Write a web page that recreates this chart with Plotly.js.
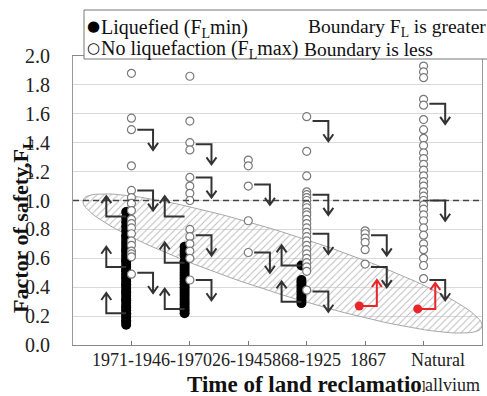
<!DOCTYPE html>
<html><head><meta charset="utf-8">
<script src="https://cdn.plot.ly/plotly-3.0.1.min.js"></script>
<style>html,body{margin:0;padding:0;background:#fff}#chart{width:487px;height:396px}</style>
</head><body><div id="chart"></div>
<script>
// ---------- data ----------
const categories = ['1971-', '1946-1970', '1926-1945', '1868-1925', '1867', 'Natural'];
const lastCategorySecondLine = 'allvium';

// Liquefied (F_L min), black filled
const liqCat1 = [0.14,0.16,0.17,0.19,0.21,0.22,0.24,0.26,0.27,0.29,0.31,0.32,0.34,0.36,0.37,0.39,0.41,0.42,0.44,0.46,0.47,0.49,0.51,0.52,0.54,0.56,0.58,0.59,0.61,0.63,0.65,0.66,0.68,0.70,0.72,0.74,0.76,0.79,0.82,0.85,0.88,0.92];
const liqCat2 = [0.22,0.24,0.26,0.28,0.30,0.32,0.34,0.36,0.38,0.40,0.42,0.44,0.46,0.48,0.50,0.52,0.54,0.56,0.58,0.62,0.65,0.68];
const liqCat4 = [0.29,0.31,0.33,0.35,0.37,0.39,0.41,0.43,0.45,0.55];
// Liquefied, red
const liqRedCat5 = [0.27];
const liqRedCat6 = [0.25];

// No liquefaction (F_L max), open circles
const noLiqCat1 = [1.88,1.57,1.49,1.24,1.07,1.02,0.98,0.93,0.87,0.84,0.81,0.77,0.72,0.69,0.65,0.63,0.61,0.49];
const noLiqCat2 = [1.86,1.55,1.40,1.35,1.16,1.10,1.05,1.00,0.80,0.75,0.70,0.65,0.60,0.45];
const noLiqCat3 = [1.28,1.24,1.10,0.86,0.64];
const noLiqCat4 = [1.58,1.34,1.17,1.06,1.04,1.02,1.00,0.97,0.95,0.92,0.90,0.87,0.84,0.81,0.78,0.75,0.72,0.69,0.66,0.63,0.60,0.57,0.54,0.51,0.38];
const noLiqCat5 = [0.79,0.77,0.74,0.71,0.66,0.56];
const noLiqCat6 = [1.93,1.89,1.85,1.70,1.66,1.56,1.49,1.43,1.38,1.33,1.29,1.25,1.21,1.17,1.13,1.10,1.06,1.03,1.00,0.97,0.94,0.90,0.86,0.81,0.76,0.70,0.66,0.60,0.55,0.46];

// Boundary arrows: [category number, F_L value where the arrow starts]
const arrowsGreater = [[1,0.22],[1,0.54],[1,0.89],[2,0.25],[2,0.57],[2,0.89],[4,0.30],[4,0.55]];
const arrowsLess = [[1,1.49],[1,1.07],[1,0.50],[2,1.39],[2,1.16],[2,0.76],[2,0.45],[3,1.11],[3,0.64],[4,1.55],[4,1.04],[4,0.77],[4,0.37],[5,0.76],[5,0.54],[6,1.67],[6,1.00],[6,0.45]];
const arrowsGreaterRed = [[5,0.27],[6,0.25]];

const yTickVals = [0,0.2,0.4,0.6,0.8,1.0,1.2,1.4,1.6,1.8,2.0];

// ---------- layout helpers (positions/styles) ----------
const W = 487, H = 396, ML = 73, MR = 5, MT = 56, MB = 51;
const PW = W - ML - MR, PH = H - MT - MB;
const XR = [0, 7], YR = [0, 2];
const px2x = px => XR[0] + (px - ML) / PW * (XR[1] - XR[0]);
const py2y = py => YR[0] + (H - MB - py) / PH * (YR[1] - YR[0]);
const px2paper = px => (px - ML) / PW;
const py2paper = py => (H - MB - py) / PH;
const dxPerPx = (XR[1]-XR[0]) / PW, dyPerPx = (YR[1]-YR[0]) / PH;

const LIQ_OFF = -0.09;
const FONT = 'Liberation Serif';

function pts(arrs, off) {
  const x = [], y = [];
  arrs.forEach(([cat, vals]) => vals.forEach(v => { x.push(cat + off); y.push(v); }));
  return {x, y};
}
const liq = pts([[1,liqCat1],[2,liqCat2],[4,liqCat4]], LIQ_OFF);
const red = pts([[5,liqRedCat5],[6,liqRedCat6]], -0.1);
const noLiq = pts([[1,noLiqCat1],[2,noLiqCat2],[3,noLiqCat3],[4,noLiqCat4],[5,noLiqCat5],[6,noLiqCat6]], 0);

// hatched boundary band (ellipse defined in pixel geometry)
const E = {x1: 83, y1: 200, x2: 482, y2: 327, b: 30};
const ecx = (E.x1+E.x2)/2, ecy = (E.y1+E.y2)/2;
const ea = Math.hypot(E.x2-E.x1, E.y2-E.y1)/2, eth = Math.atan2(E.y2-E.y1, E.x2-E.x1);
const ex = [], ey = [];
for (let k = 0; k <= 120; k++) {
  const t = k/120*2*Math.PI;
  const u = ea*Math.cos(t), w = E.b*Math.sin(t);
  ex.push(px2x(ecx + u*Math.cos(eth) - w*Math.sin(eth)));
  ey.push(py2y(ecy + u*Math.sin(eth) + w*Math.cos(eth)));
}

const traces = [
  {x: ex, y: ey, mode: 'lines', fill: 'toself', line: {color: '#a8a8a8', width: 1},
   fillcolor: 'rgba(0,0,0,0)',
   fillpattern: {shape: '/', size: 5, solidity: 0.18, fgcolor: '#b8b8b8', bgcolor: 'rgba(255,255,255,0)'},
   hoverinfo: 'skip', showlegend: false},
  {x: liq.x, y: liq.y, mode: 'markers', name: 'Liquefied (F<sub>L</sub>min)',
   marker: {color: '#000', size: 10, line: {width: 0}}, showlegend: false},
  {x: noLiq.x, y: noLiq.y, mode: 'markers', name: 'No liquefaction (F<sub>L</sub>max)',
   marker: {color: '#fff', size: 8, line: {color: '#7a7a7a', width: 1.2}}, showlegend: false},
  {x: red.x, y: red.y, mode: 'markers', name: 'Liquefied (red)',
   marker: {color: '#e8262a', size: 9}, showlegend: false}
];

// arrows as shapes
const shapes = [];
const HW = 5*dxPerPx, HH = 7*dyPerPx;
function arrowShape(x0, xv, y0, y1, color) {
  const up = y1 > y0;
  const hy = up ? y1 - HH : y1 + HH;
  shapes.push({type: 'path', xref: 'x', yref: 'y', layer: 'above',
    path: `M ${x0},${y0} L ${xv},${y0} L ${xv},${y1} M ${xv-HW},${hy} L ${xv},${y1} L ${xv+HW},${hy}`,
    line: {color: color, width: 2}});
}
// dashed F_L = 1 line
shapes.push({type: 'line', xref: 'paper', yref: 'y', x0: 0, x1: 1, y0: 1, y1: 1, layer: 'above',
  line: {color: '#444', width: 1.3, dash: '6px,4px'}});
arrowsGreater.forEach(([c, v]) => arrowShape(c + LIQ_OFF, c - 0.43, v, v + 0.14, '#333'));
arrowsLess.forEach(([c, v]) => arrowShape(c + 0.1, c + 0.37, v, v - 0.14, '#333'));
arrowsGreaterRed.forEach(([c, v]) => arrowShape(c - 0.1, c + 0.2, v, v + 0.18, '#e8262a'));

// legend box
shapes.push({type: 'rect', xref: 'paper', yref: 'paper', layer: 'above',
  x0: px2paper(84), x1: px2paper(492), y0: py2paper(59), y1: py2paper(10),
  fillcolor: '#fff', line: {color: '#777', width: 1}});

const annotations = [];
annotations.push({text: '<b>Time of land reclamation</b>', xref: 'paper', yref: 'paper',
  x: px2paper(311), y: py2paper(385), xanchor: 'center', yanchor: 'middle', showarrow: false,
  font: {family: FONT, size: 23, color: '#111'}});
// category labels (white text boxes, hand-placed as in the original; earlier ones sit on top)
const labelCentersPx = [113, 173, 233, 302, 368, 438];
annotations.push({text: lastCategorySecondLine, xref: 'paper', yref: 'paper', x: px2paper(424), y: py2paper(385),
  xanchor: 'left', yanchor: 'middle', showarrow: false, bgcolor: '#fff', borderpad: 0,
  font: {family: FONT, size: 18, color: '#222'}});
for (let i = categories.length - 1; i >= 0; i--) {
  annotations.push({
    text: categories[i], xref: 'paper', yref: 'paper', x: px2paper(labelCentersPx[i]), y: py2paper(349),
    xanchor: 'center', yanchor: 'top', showarrow: false, bgcolor: '#fff', borderpad: 0,
    font: {family: FONT, size: 18, color: '#222'}});
}
annotations.push({text: '<b>Factor of safety,F<sub>L</sub></b>', xref: 'paper', yref: 'paper',
  x: px2paper(22), y: py2paper(226), xanchor: 'center', yanchor: 'middle', textangle: -90, showarrow: false,
  font: {family: FONT, size: 22, color: '#111'}});
// legend texts
const leg = [
  ['\u25CF', 93, 28, 'center', 0], ['Liquefied (F<sub>L</sub>min)', 99, 28, 'left', 20], ['Boundary F<sub>L</sub> is greater', 306, 28, 'left', 19.5],
  ['\u25CB', 93, 50, 'center', 0], ['No liquefaction (F<sub>L</sub>max)', 99, 50, 'left', 20], ['Boundary is less', 302, 50, 'left', 19.5]
];
leg.forEach(([t, x, y, a, s]) => annotations.push({text: t, xref: 'paper', yref: 'paper',
  x: px2paper(x), y: py2paper(s === 0 ? y - 2 : y), xanchor: a, yanchor: 'middle', showarrow: false,
  font: s === 0 ? {family: 'DejaVu Sans', size: 15, color: '#000'} : {family: FONT, size: s, color: '#111'}}));

const layout = {
  width: W, height: H, margin: {l: ML, r: MR, t: MT, b: MB},
  paper_bgcolor: '#fff', plot_bgcolor: '#fff', showlegend: false,
  xaxis: {range: XR, tickvals: [1,2,3,4,5,6], showticklabels: false, ticks: 'inside', ticklen: 4,
    tickcolor: '#777', showgrid: false, zeroline: false, showline: true, linecolor: '#888', mirror: true},
  yaxis: {range: YR, tickvals: yTickVals, tickformat: '.1f', ticks: '', showgrid: true, gridcolor: '#d9d9d9',
    zeroline: false, showline: true, linecolor: '#999', mirror: true, ticklabelstandoff: 18,
    tickfont: {family: FONT, size: 20, color: '#222'}},
  shapes: shapes, annotations: annotations
};
Plotly.newPlot('chart', traces, layout, {displayModeBar: false, staticPlot: true});
</script></body></html>
